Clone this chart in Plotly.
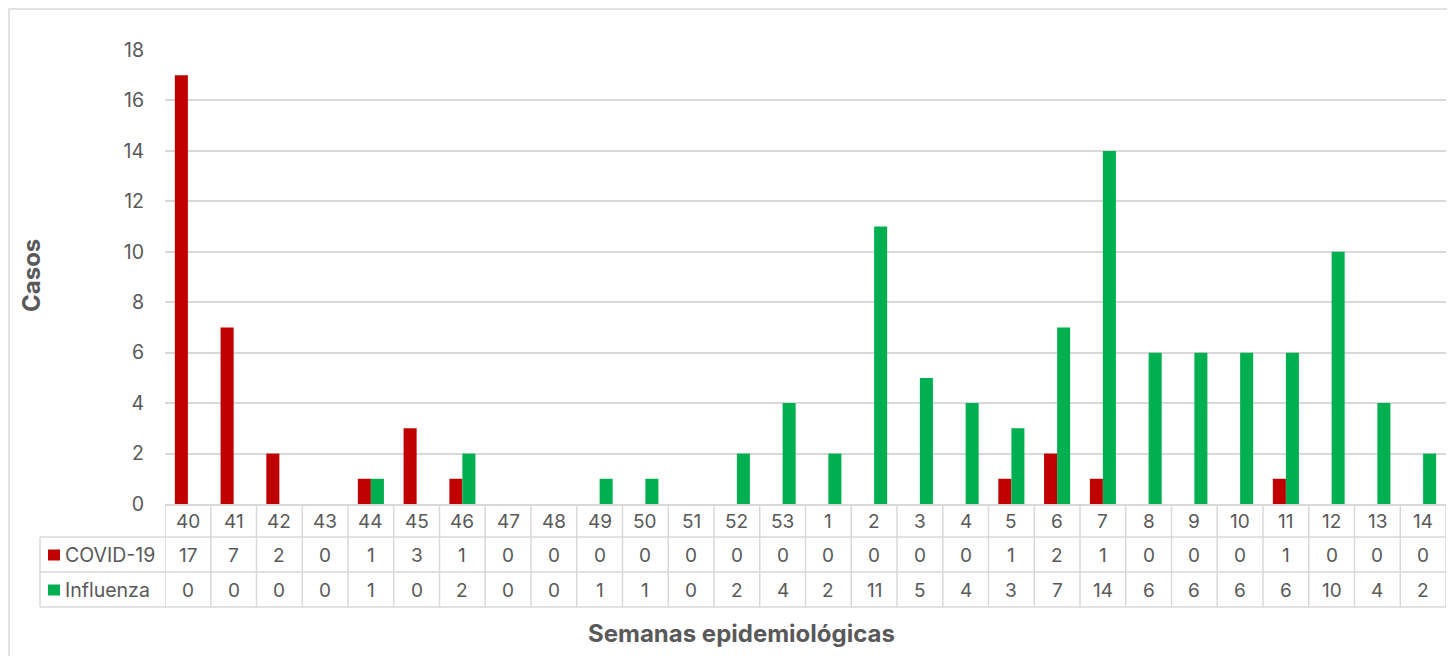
import plotly.graph_objects as go

weeks = [str(w) for w in list(range(40, 54)) + list(range(1, 15))]
covid = [17, 7, 2, 0, 1, 3, 1, 0, 0, 0, 0, 0, 0, 0, 0, 0, 0, 0, 1, 2, 1, 0, 0, 0, 1, 0, 0, 0]
influenza = [0, 0, 0, 0, 1, 0, 2, 0, 0, 1, 1, 0, 2, 4, 2, 11, 5, 4, 3, 7, 14, 6, 6, 6, 6, 10, 4, 2]
series_names = ["COVID-19", "Influenza"]
colors = ["#C00000", "#00B050"]

OFF = 8  # page body margin
W, H = 1455 - OFF, 656 - OFF
L, R, T, B = 165, 1446, 50, 504  # reference (window) pixel coords of plot area
FONT = "Inter, 'Open Sans', Arial, sans-serif"
GRID = "#d9d9d9"
TXT = "#595959"

def px(x):
    return (x - L) / (R - L)

def py(y):
    return (B - y) / (B - T)

fig = go.Figure()
for name, vals, c in zip(series_names, [covid, influenza], colors):
    fig.add_trace(go.Bar(x=weeks, y=vals, name=name, marker=dict(color=c, line=dict(width=0)),
                         showlegend=False))

shapes = []
annotations = []

# outer frame
shapes.append(dict(type="rect", xref="paper", yref="paper", x0=px(9), x1=px(1448), y0=py(9), y1=py(680),
                   line=dict(color="#d9d9d9", width=1.5), fillcolor="rgba(0,0,0,0)", layer="below"))

row_lines = [537, 572, 607]
for yy in row_lines:
    shapes.append(dict(type="line", xref="paper", yref="paper", x0=px(40), x1=1, y0=py(yy), y1=py(yy),
                       line=dict(color=GRID, width=1.5)))
n = len(weeks)
for i in range(n + 1):
    shapes.append(dict(type="line", xref="x", yref="paper", x0=i - 0.5, x1=i - 0.5, y0=0, y1=py(607),
                       line=dict(color=GRID, width=1.5)))
shapes.append(dict(type="line", xref="paper", yref="paper", x0=px(40), x1=px(40), y0=py(537), y1=py(607),
                   line=dict(color=GRID, width=1.5)))

row_centers = [521, 555, 590]
TS = 19
for i, w in enumerate(weeks):
    annotations.append(dict(x=i, y=py(row_centers[0]), xref="x", yref="paper", text=w, showarrow=False,
                            font=dict(family=FONT, size=TS, color=TXT), xanchor="center", yanchor="middle"))
for r, (name, vals, c) in enumerate(zip(series_names, [covid, influenza], colors)):
    yc = row_centers[r + 1]
    for i, v in enumerate(vals):
        annotations.append(dict(x=i, y=py(yc), xref="x", yref="paper", text=str(v), showarrow=False,
                                font=dict(family=FONT, size=TS, color=TXT), xanchor="center", yanchor="middle"))
    shapes.append(dict(type="rect", xref="paper", yref="paper", x0=px(48), x1=px(60),
                       y0=py(yc - 5.5), y1=py(yc + 5.5), fillcolor=c, line=dict(width=0)))
    annotations.append(dict(x=px(63), y=py(yc), xref="paper", yref="paper", text=name, showarrow=False,
                            font=dict(family=FONT, size=19.5, color=TXT), xanchor="left", yanchor="middle"))

annotations.append(dict(x=px(741), y=py(633), xref="paper", yref="paper", text="<b>Semanas epidemiológicas</b>",
                        showarrow=False, font=dict(family=FONT, size=24, color=TXT),
                        xanchor="center", yanchor="middle"))
annotations.append(dict(x=px(31), y=py(276), xref="paper", yref="paper", text="<b>Casos</b>", textangle=-90,
                        showarrow=False, font=dict(family=FONT, size=24, color=TXT),
                        xanchor="center", yanchor="middle"))

fig.update_layout(
    width=W, height=H,
    margin=dict(l=L - OFF, r=W - (R - OFF), t=T - OFF, b=H - (B - OFF), autoexpand=False),
    paper_bgcolor="white", plot_bgcolor="white",
    barmode="group", bargap=0.43, bargroupgap=0,
    font=dict(family=FONT, color=TXT),
    shapes=shapes, annotations=annotations,
    xaxis=dict(type="category", categoryorder="array", categoryarray=weeks, showticklabels=False,
               showgrid=False, zeroline=False, showline=True, linecolor=GRID, linewidth=1.5,
               range=[-0.5, n - 0.5], fixedrange=True),
    yaxis=dict(range=[0, 18], dtick=2, tick0=0, showgrid=True, gridcolor=GRID, gridwidth=1.5,
               zeroline=False, showline=False, ticks="", ticklabelstandoff=20,
               tickfont=dict(family=FONT, size=19.5, color=TXT)),
)

fig.write_html("out.html")
